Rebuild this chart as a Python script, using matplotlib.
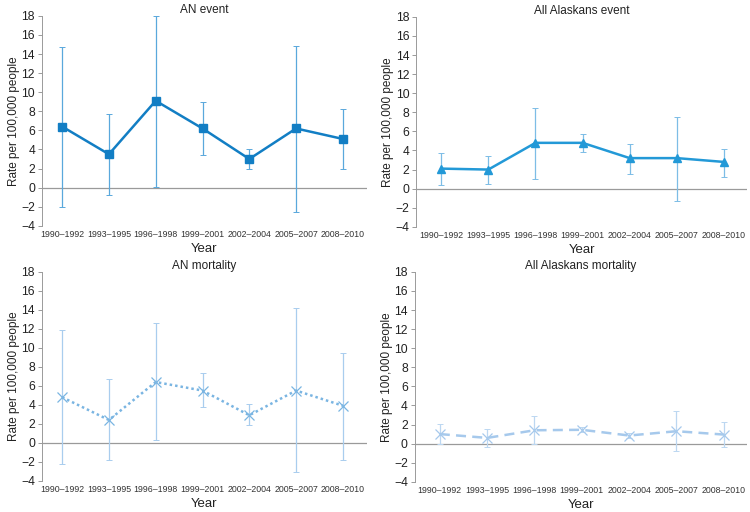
import numpy as np
import matplotlib
matplotlib.use("Agg")
import matplotlib.pyplot as plt

plt.rcParams["font.family"] = ["Liberation Sans", "DejaVu Sans"]

periods = ["1990\u20131992", "1993\u20131995", "1996\u20131998", "1999\u20132001",
           "2002\u20132004", "2005\u20132007", "2008\u20132010"]

an_event = [6.4, 3.5, 9.1, 6.2, 3.0, 6.2, 5.1]
an_event_lo = [-2.0, -0.8, 0.1, 3.4, 1.9, -2.6, 1.9]
an_event_hi = [14.7, 7.7, 18.0, 9.0, 4.1, 14.8, 8.2]

all_event = [2.1, 2.0, 4.8, 4.8, 3.2, 3.2, 2.8]
all_event_lo = [0.4, 0.5, 1.0, 3.8, 1.5, -1.3, 1.2]
all_event_hi = [3.7, 3.4, 8.5, 5.7, 4.7, 7.5, 4.2]

an_mort = [4.8, 2.4, 6.4, 5.5, 2.9, 5.5, 3.9]
an_mort_lo = [-2.2, -1.8, 0.3, 3.8, 1.9, -3.1, -1.8]
an_mort_hi = [11.9, 6.7, 12.6, 7.4, 4.1, 14.2, 9.5]

all_mort = [1.0, 0.6, 1.4, 1.45, 0.85, 1.3, 0.95]
all_mort_lo = [0.0, -0.4, 0.0, 1.2, 0.6, -0.8, -0.4]
all_mort_hi = [2.1, 1.5, 2.9, 1.7, 1.1, 3.4, 2.3]

panels = [
    # title, values, lo, hi, rect, xlim, line color, err color, marker, linestyle
    ("AN event", an_event, an_event_lo, an_event_hi,
     [0.056, 0.559, 0.433, 0.410], (-0.43, 6.51), "#127ec4", "#5aa8dc", "s", "-"),
    ("All Alaskans event", all_event, all_event_lo, all_event_hi,
     [0.555, 0.557, 0.441, 0.410], (-0.53, 6.49), "#2399d7", "#7dbde6", "^", "-"),
    ("AN mortality", an_mort, an_mort_lo, an_mort_hi,
     [0.056, 0.061, 0.433, 0.408], (-0.43, 6.51), "#7ab5e2", "#a9cdee", "x", (0, (1, 1.2))),
    ("All Alaskans mortality", all_mort, all_mort_lo, all_mort_hi,
     [0.553, 0.059, 0.443, 0.410], (-0.53, 6.49), "#a6c9ec", "#bcd7f1", "x", (0, (4, 2.5))),
]

fig = plt.figure(figsize=(7.5, 5.12), dpi=100)

x = np.arange(len(periods))
yt = list(range(-4, 19, 2))
for title, vals, lo, hi, rect, xl, col, ecol, mk, ls in panels:
    ax = fig.add_axes(rect)
    vals = np.array(vals)
    yerr = [vals - np.array(lo), np.array(hi) - vals]
    ax.errorbar(x, vals, yerr=yerr, fmt="none", ecolor=ecol, elinewidth=0.9,
                capsize=2, capthick=0.7, zorder=2)
    if mk == "x":
        ax.plot(x, vals, color=col, linestyle=ls, linewidth=1.8, marker=mk,
                markersize=7, markeredgewidth=0.9, zorder=3)
    else:
        ax.plot(x, vals, color=col, linestyle=ls, linewidth=1.8, marker=mk,
                markersize=6, zorder=3)
    ax.axhline(0, color="#9a9a9a", linewidth=0.9, zorder=1)
    ax.set_xlim(*xl)
    ax.set_ylim(-4, 18)
    ax.set_yticks(yt)
    ax.set_yticklabels(["\u2212" + str(-t) if t < 0 else str(t) for t in yt])
    ax.set_xticks(x)
    ax.set_xticklabels(periods, fontsize=6.3, color="#333333")
    ax.tick_params(axis="x", length=0, pad=3)
    ax.tick_params(axis="y", length=3, width=0.7, color="#9a9a9a",
                   labelsize=8.7, labelcolor="#222222", pad=2)
    for s in ["top", "right", "bottom"]:
        ax.spines[s].set_visible(False)
    ax.spines["left"].set_color("#9a9a9a")
    ax.spines["left"].set_linewidth(0.7)
    ax.set_title(title, fontsize=8.5, color="#222222", pad=2)
    ax.set_xlabel("Year", fontsize=9.5, color="#222222", labelpad=3)
    ax.set_ylabel("Rate per 100,000 people", fontsize=8.5, color="#222222", labelpad=1)

fig.savefig("out.png", dpi=100)
